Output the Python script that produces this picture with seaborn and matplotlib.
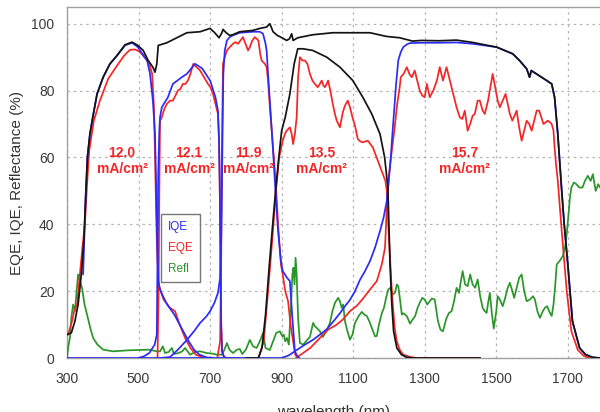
import numpy as np
import pandas as pd
import matplotlib
matplotlib.use("Agg")
import matplotlib.pyplot as plt
import seaborn as sns
from matplotlib.lines import Line2D

# ---------------- data ----------------
# Black: total (top) curve
total_nm = [300, 312, 322, 331, 340, 347, 352, 357, 364, 372, 384, 401, 420, 440, 462, 482, 498,
            513, 527, 540, 546, 551, 555, 579, 607, 635, 672, 700, 713, 725, 733, 736, 745, 755,
            763, 783, 820, 839, 858, 867, 876, 888, 901, 914, 922, 928, 932, 945, 987, 1043, 1099,
            1147, 1193, 1230, 1266, 1290, 1340, 1389, 1434, 1501, 1546, 1565, 1585, 1590, 1593,
            1598, 1605, 1641, 1655, 1663, 1672, 1683, 1690, 1700, 1713, 1733, 1750, 1770, 1790]
total_val = [7, 7.5, 11, 16, 25, 35, 48, 60, 67, 72, 79, 84, 88, 90.5, 93.7, 94.5, 93.5,
             92, 89, 87, 85.5, 88, 93.5, 94.3, 95.8, 97.3, 97.6, 98.6, 97.3, 95.8, 97.3, 98.3, 97.3, 96.5,
             96.7, 97.6, 98, 98.6, 99, 100, 97.6, 96.5, 95.8, 95, 95.5, 97, 95, 95.8, 96.7, 97.3, 97.3,
             97.3, 96.2, 95.8, 94.8, 95, 94.9, 95.1, 94.4, 93, 91, 89, 86.5, 85, 84,
             86, 85.5, 83, 82, 78, 67, 50, 40, 28, 11, 3, 1, 0.2, 0]

# Black: subcell 4 IQE
sub4_nm = [800, 835, 845, 855, 865, 875, 884, 892, 900, 910, 923, 935, 945, 960, 987, 1026, 1063,
           1099, 1127, 1152, 1175, 1188, 1197, 1203, 1208, 1213, 1222, 1235, 1250, 1270, 1455]
sub4_val = [0, 0, 3, 13, 27, 40, 51, 60, 68, 72, 79, 88, 92.5, 92.5, 92, 90, 87,
            83, 78, 73, 67, 60, 51, 28, 16, 8, 3, 1, 0.2, 0, 0]

# Blue: IQE of subcells
iqe1_nm = [345, 352, 357, 364, 372, 384, 401, 420, 440, 462, 482, 498, 504, 524, 532, 540, 546,
           549, 552, 555, 560, 566, 580, 600, 620, 640, 655, 670, 690, 710]
iqe1_val = [25, 48, 60, 67, 72, 79, 84, 88, 90.5, 93.5, 94.3, 93, 92, 89, 85, 77, 67,
            52, 35, 23, 20.5, 19, 16, 13, 9, 5, 2.5, 1, 0.2, 0]

iqe2_nm = [500, 515, 530, 545, 551, 553, 555, 558, 560, 565, 582, 596, 621, 635, 658, 678, 700,
           715, 722, 725, 727, 729, 731, 733, 738, 745, 780]
iqe2_val = [0, 0.5, 1.5, 4, 7, 30, 55, 68, 72, 75, 78, 82, 84, 85, 88, 86.6, 83,
            78, 74, 65, 52, 30, 10, 2, 0.5, 0, 0]

iqe3_nm = [560, 588, 610, 635, 655, 672, 690, 700, 712, 722, 728, 731, 733, 735, 737, 741, 747,
           755, 763, 783, 820, 839, 848, 855, 858, 862, 867, 876, 881, 890, 898, 903, 915, 923,
           930, 937, 945, 950]
iqe3_val = [0, 0.3, 2.5, 5.4, 8, 10.5, 12.5, 14, 16.5, 19.5, 24, 35, 50, 70, 85, 92, 95,
            96, 96.5, 97.3, 97.6, 97.6, 97, 94, 92, 85, 77, 62, 53, 38, 29, 26, 24, 23,
            12, 2, 0.3, 0]

iqe5_nm = [300, 900, 920, 942, 965, 987, 1007, 1026, 1045, 1063, 1077, 1091, 1105, 1119, 1133,
           1147, 1161, 1175, 1185, 1194, 1203, 1211, 1220, 1226, 1233, 1240, 1250, 1258, 1290,
           1340, 1389, 1434, 1501, 1546, 1565, 1585, 1590, 1593, 1598, 1605, 1641, 1655, 1663,
           1672, 1683, 1690, 1700, 1713, 1733, 1750, 1770, 1790]
iqe5_val = [0, 0, 0.8, 2.4, 4, 5.4, 7, 8.6, 11, 13.4, 15.5, 17.4, 20, 23.4, 26,
            29, 33, 38, 42, 47, 57, 69, 82, 89, 91.5, 93, 93.8, 94.2, 94.3,
            94.3, 94.4, 94, 93, 91, 89, 86.5, 85, 84, 86, 85.5, 83, 82, 78,
            67, 50, 40, 28, 11, 3, 1, 0.2, 0]

# Red: EQE of subcells
eqe1_nm = [303, 314, 320, 328, 336, 343, 350, 356, 362, 375, 392, 415, 440, 460, 476, 490, 504,
           520, 530, 538, 543, 547, 551, 556, 562, 570, 588, 602, 615, 630, 645, 660, 680]
eqe1_val = [7, 11, 14, 16, 25, 33, 40, 52, 62, 71, 77, 83.5, 87.5, 90.5, 92.2, 92.3, 91.6,
            89.5, 88, 85, 75, 55, 35, 22, 20, 17.5, 15, 14, 10, 6, 3, 1, 0.2]

eqe2_nm = [553, 556, 558, 560, 565, 572, 579, 588, 596, 603, 610, 617, 624, 631, 638, 645, 653,
           662, 672, 683, 694, 701, 708, 715, 722, 725, 727, 729, 731, 734, 740]
eqe2_val = [0, 20, 50, 71, 72, 74.5, 76, 77, 77, 78.5, 80, 80.5, 82, 82, 83, 85, 88,
            87, 86, 84, 82, 81, 79, 76, 73, 65, 50, 30, 10, 2, 0]

eqe3_nm = [720, 728, 731, 733, 736, 741, 747, 755, 764, 771, 778, 785, 792, 799, 806, 811, 818,
           825, 830, 835, 840, 844, 853, 858, 862, 867, 873, 878, 884, 890, 898, 903, 910, 918,
           925, 932, 938, 945]
eqe3_val = [0, 5, 30, 60, 88, 90, 92, 93, 94, 94.5, 94, 95, 96, 94, 92, 93, 95,
            96, 95.5, 95, 91, 89, 88, 87, 83, 75, 67, 60, 52, 40, 28, 25, 20, 17,
            10, 5, 1, 0]

eqe4_nm = [835, 850, 862, 875, 884, 893, 903, 909, 914, 923, 928, 932, 937, 942, 946, 951, 958,
           965, 972, 979, 986, 993, 1001, 1007, 1012, 1017, 1021, 1026, 1030, 1036, 1043, 1049,
           1054, 1063, 1071, 1077, 1085, 1091, 1098, 1105, 1113, 1120, 1127, 1134, 1141, 1148,
           1155, 1162, 1169, 1176, 1183, 1190, 1194, 1198, 1203, 1207, 1211, 1216, 1222, 1230,
           1240, 1260, 1280, 1455]
eqe4_val = [0, 5, 20, 37, 50, 60, 65, 67, 68, 69, 67, 64, 67, 72, 84, 90, 89,
            89, 88, 85, 83, 82, 81, 82, 83, 81.5, 81, 82, 83, 80, 76, 73,
            71, 69, 73.5, 75.5, 77, 75, 72, 69.5, 65.5, 64.8, 64.5, 64.8, 65, 64,
            63, 61, 59, 57, 55, 53, 50, 40, 30, 22, 15.6, 9, 5, 2.5,
            1, 0.3, 0, 0]

eqe5_nm = [940, 960, 980, 1007, 1030, 1054, 1071, 1091, 1110, 1127, 1147, 1166, 1180, 1189, 1194,
           1200, 1208, 1216, 1223, 1230, 1233, 1241, 1250, 1257, 1264, 1272, 1279, 1286, 1293,
           1300, 1306, 1314, 1324, 1334, 1342, 1351, 1361, 1368, 1375, 1389, 1398, 1405, 1412,
           1420, 1427, 1434, 1440, 1448, 1454, 1462, 1468, 1477, 1490, 1497, 1504, 1510, 1518,
           1526, 1532, 1538, 1545, 1551, 1557, 1564, 1571, 1578, 1585, 1592, 1599, 1606, 1613,
           1620, 1626, 1632, 1638, 1644, 1650, 1655, 1660, 1663, 1667, 1672, 1683, 1697, 1710,
           1728, 1745, 1761, 1790]
eqe5_val = [0, 1.5, 3, 6, 8.5, 10, 11.5, 14, 15.6, 17.7, 20.5, 23, 28, 33, 45,
            55, 62, 69, 76, 81, 84, 85, 87, 85, 84, 86, 83, 80, 78.5,
            78, 82, 78, 80, 83, 87, 83, 87, 84, 81, 75, 72, 71.5, 74,
            68, 70, 72.5, 73, 77, 77, 74, 73, 77, 85, 81, 77, 75, 77,
            79, 76, 73, 71, 72.5, 74, 69, 65, 68, 71, 70, 68, 71, 74,
            74, 72, 70, 70.5, 71, 70.5, 70, 68, 63, 58, 53, 38, 20, 8,
            2.4, 0.6, 0, 0]

# Green: reflectance
refl_nm = [300, 303, 308, 312, 317, 322, 327, 331, 336, 342, 349, 356, 365, 373, 385, 401, 429,
           470, 504, 530, 551, 560, 568, 574, 584, 593, 599, 612, 622, 630, 637, 644, 658, 672,
           690, 708, 719, 733, 740, 747, 754, 764, 775, 783, 790, 800, 811, 820, 830, 839, 848,
           855, 867, 876, 885, 895, 902, 906, 910, 915, 920, 926, 930, 933, 936, 939, 942, 946,
           951, 960, 968, 979, 988, 993, 998, 1007, 1015, 1025, 1035, 1042, 1049, 1058, 1063,
           1068, 1072, 1077, 1084, 1091, 1098, 1105, 1115, 1124, 1131, 1138, 1145, 1152, 1161,
           1166, 1172, 1180, 1186, 1192, 1198, 1204, 1210, 1217, 1222, 1226, 1231, 1236, 1240,
           1245, 1250, 1259, 1266, 1273, 1280, 1286, 1293, 1300, 1307, 1314, 1320, 1328, 1337,
           1344, 1351, 1356, 1361, 1368, 1375, 1382, 1389, 1396, 1401, 1406, 1413, 1420, 1427,
           1434, 1441, 1448, 1455, 1462, 1468, 1473, 1478, 1482, 1488, 1493, 1500, 1504, 1510,
           1518, 1525, 1532, 1538, 1545, 1550, 1557, 1564, 1571, 1578, 1585, 1594, 1603, 1608,
           1615, 1622, 1630, 1636, 1642, 1650, 1655, 1660, 1665, 1669, 1677, 1686, 1692, 1697,
           1702, 1706, 1710, 1717, 1724, 1732, 1741, 1748, 1756, 1764, 1770, 1778, 1785, 1790]
refl_val = [0, 3, 6, 12, 16, 14, 20, 25, 23, 21, 16, 13, 9, 6, 4, 2.5, 2,
            2.3, 2.4, 2.5, 2, 2, 3.5, 1.5, 1.8, 3, 1.2, 1.5, 2, 3, 2, 1, 1.8, 2,
            1.5, 1.3, 1, 1, 2.5, 4.5, 2.5, 1.5, 2.5, 2.7, 1.2, 2.5, 5.4, 3.5, 3, 5, 7.5,
            3, 2.4, 5, 7.5, 8, 6.5, 7, 5, 6, 4, 15, 25, 27, 22, 30, 25, 12,
            4.5, 4, 5, 6.3, 10.5, 9.5, 9, 8, 6.3, 8, 10.5, 14, 16.5, 18, 17,
            15, 16, 11, 8, 5.5, 7, 10.5, 12.5, 13.8, 13, 12.6, 11, 9, 6.5,
            6.6, 10, 13.4, 15, 18, 20.5, 21, 19, 19.5, 22, 21.5, 17.4, 13, 13.4,
            13, 12.5, 10.3, 11.5, 12.5, 15, 16.5, 18, 17.5, 16, 17, 17.8, 17.5, 11,
            8.5, 8, 10, 12, 13.5, 14, 17, 21, 19.5, 23, 26, 22, 21.5, 25,
            22, 21, 23.5, 18.5, 15, 14, 13.5, 17, 19.5, 13, 8.8, 14, 18.5, 17.5,
            15.5, 18, 21, 22.5, 20, 18, 21, 24, 25, 20, 17, 17.5, 18.5, 17.5,
            14, 12, 14, 15, 15.5, 13.5, 12.6, 16, 22, 28, 29, 30.5, 33, 37,
            43, 48, 51, 52.5, 52, 51, 51, 53, 54.5, 53, 55, 50, 52, 51]

# Labels
x_ticks = [300, 500, 700, 900, 1100, 1300, 1500, 1700]
y_ticks = [0, 20, 40, 60, 80, 100]
current_labels = ["12.0", "12.1", "11.9", "13.5", "15.7"]
current_x = [454, 641, 806, 1012, 1412]
legend_labels = ["IQE", "EQE", "Refl"]

# ---------------- styling ----------------
sns.set_theme(style="white")
plt.rcParams["font.family"] = ["Liberation Sans", "DejaVu Sans"]

BLUE = "#2b2bf5"
RED = "#f52525"
GREEN = "#2a962a"
BLACK = "#141414"
LW = 1.25

fig = plt.figure(figsize=(6.0, 4.12), dpi=100)
ax = fig.add_axes([0.1117, 0.131, 0.8883, 0.852])

def draw(nm, val, color, z):
    df = pd.DataFrame({"nm": nm, "val": val})
    sns.lineplot(data=df, x="nm", y="val", color=color, lw=LW, ax=ax,
                 estimator=None, sort=False, zorder=z)

draw(refl_nm, refl_val, GREEN, 3)
for nm, val in [(eqe1_nm, eqe1_val), (eqe2_nm, eqe2_val), (eqe3_nm, eqe3_val),
                (eqe4_nm, eqe4_val), (eqe5_nm, eqe5_val)]:
    draw(nm, val, RED, 4)
for nm, val in [(iqe1_nm, iqe1_val), (iqe2_nm, iqe2_val), (iqe3_nm, iqe3_val),
                (iqe5_nm, iqe5_val)]:
    draw(nm, val, BLUE, 5)
draw(sub4_nm, sub4_val, BLACK, 6)
draw(total_nm, total_val, BLACK, 6)

ax.set_xlim(300, 1790)
ax.set_ylim(0, 105)
ax.set_xticks(x_ticks)
ax.set_yticks(y_ticks)
ax.grid(True, linestyle=(0, (2, 3)), color="#b5b5b5", lw=0.9, zorder=0)
ax.set_axisbelow(True)
for s in ["left", "bottom", "top"]:
    ax.spines[s].set_color("#a0a0a0")
    ax.spines[s].set_linewidth(1.0)
ax.spines["right"].set_visible(False)
ax.tick_params(axis="both", length=0, labelsize=10, labelcolor="#3a3a3a")
ax.tick_params(axis="x", pad=10)
ax.tick_params(axis="y", pad=9)
ax.set_xlabel("wavelength (nm)", fontsize=11, color="#333333", labelpad=14)
ax.set_ylabel("EQE, IQE, Reflectance (%)", fontsize=11, color="#333333", labelpad=5)

for lab, x in zip(current_labels, current_x):
    ax.text(x, 58.9, lab + "\nmA/cm\u00b2", color=RED, fontsize=10, fontweight="bold",
            ha="center", va="center", linespacing=1.12, zorder=8)

handles = [Line2D([], [], lw=0, marker=None) for _ in legend_labels]
leg = ax.legend(handles, legend_labels, loc="upper left", bbox_to_anchor=(0.176, 0.41),
                handlelength=0, handletextpad=0, fontsize=8.5, labelspacing=0.75,
                frameon=True, fancybox=False, edgecolor="#555555", borderpad=0.6,
                borderaxespad=0)
leg.get_frame().set_linewidth(1.0)
for t, c in zip(leg.get_texts(), [BLUE, RED, GREEN]):
    t.set_color(c)
leg.set_zorder(10)

fig.savefig("out.png", dpi=100)
